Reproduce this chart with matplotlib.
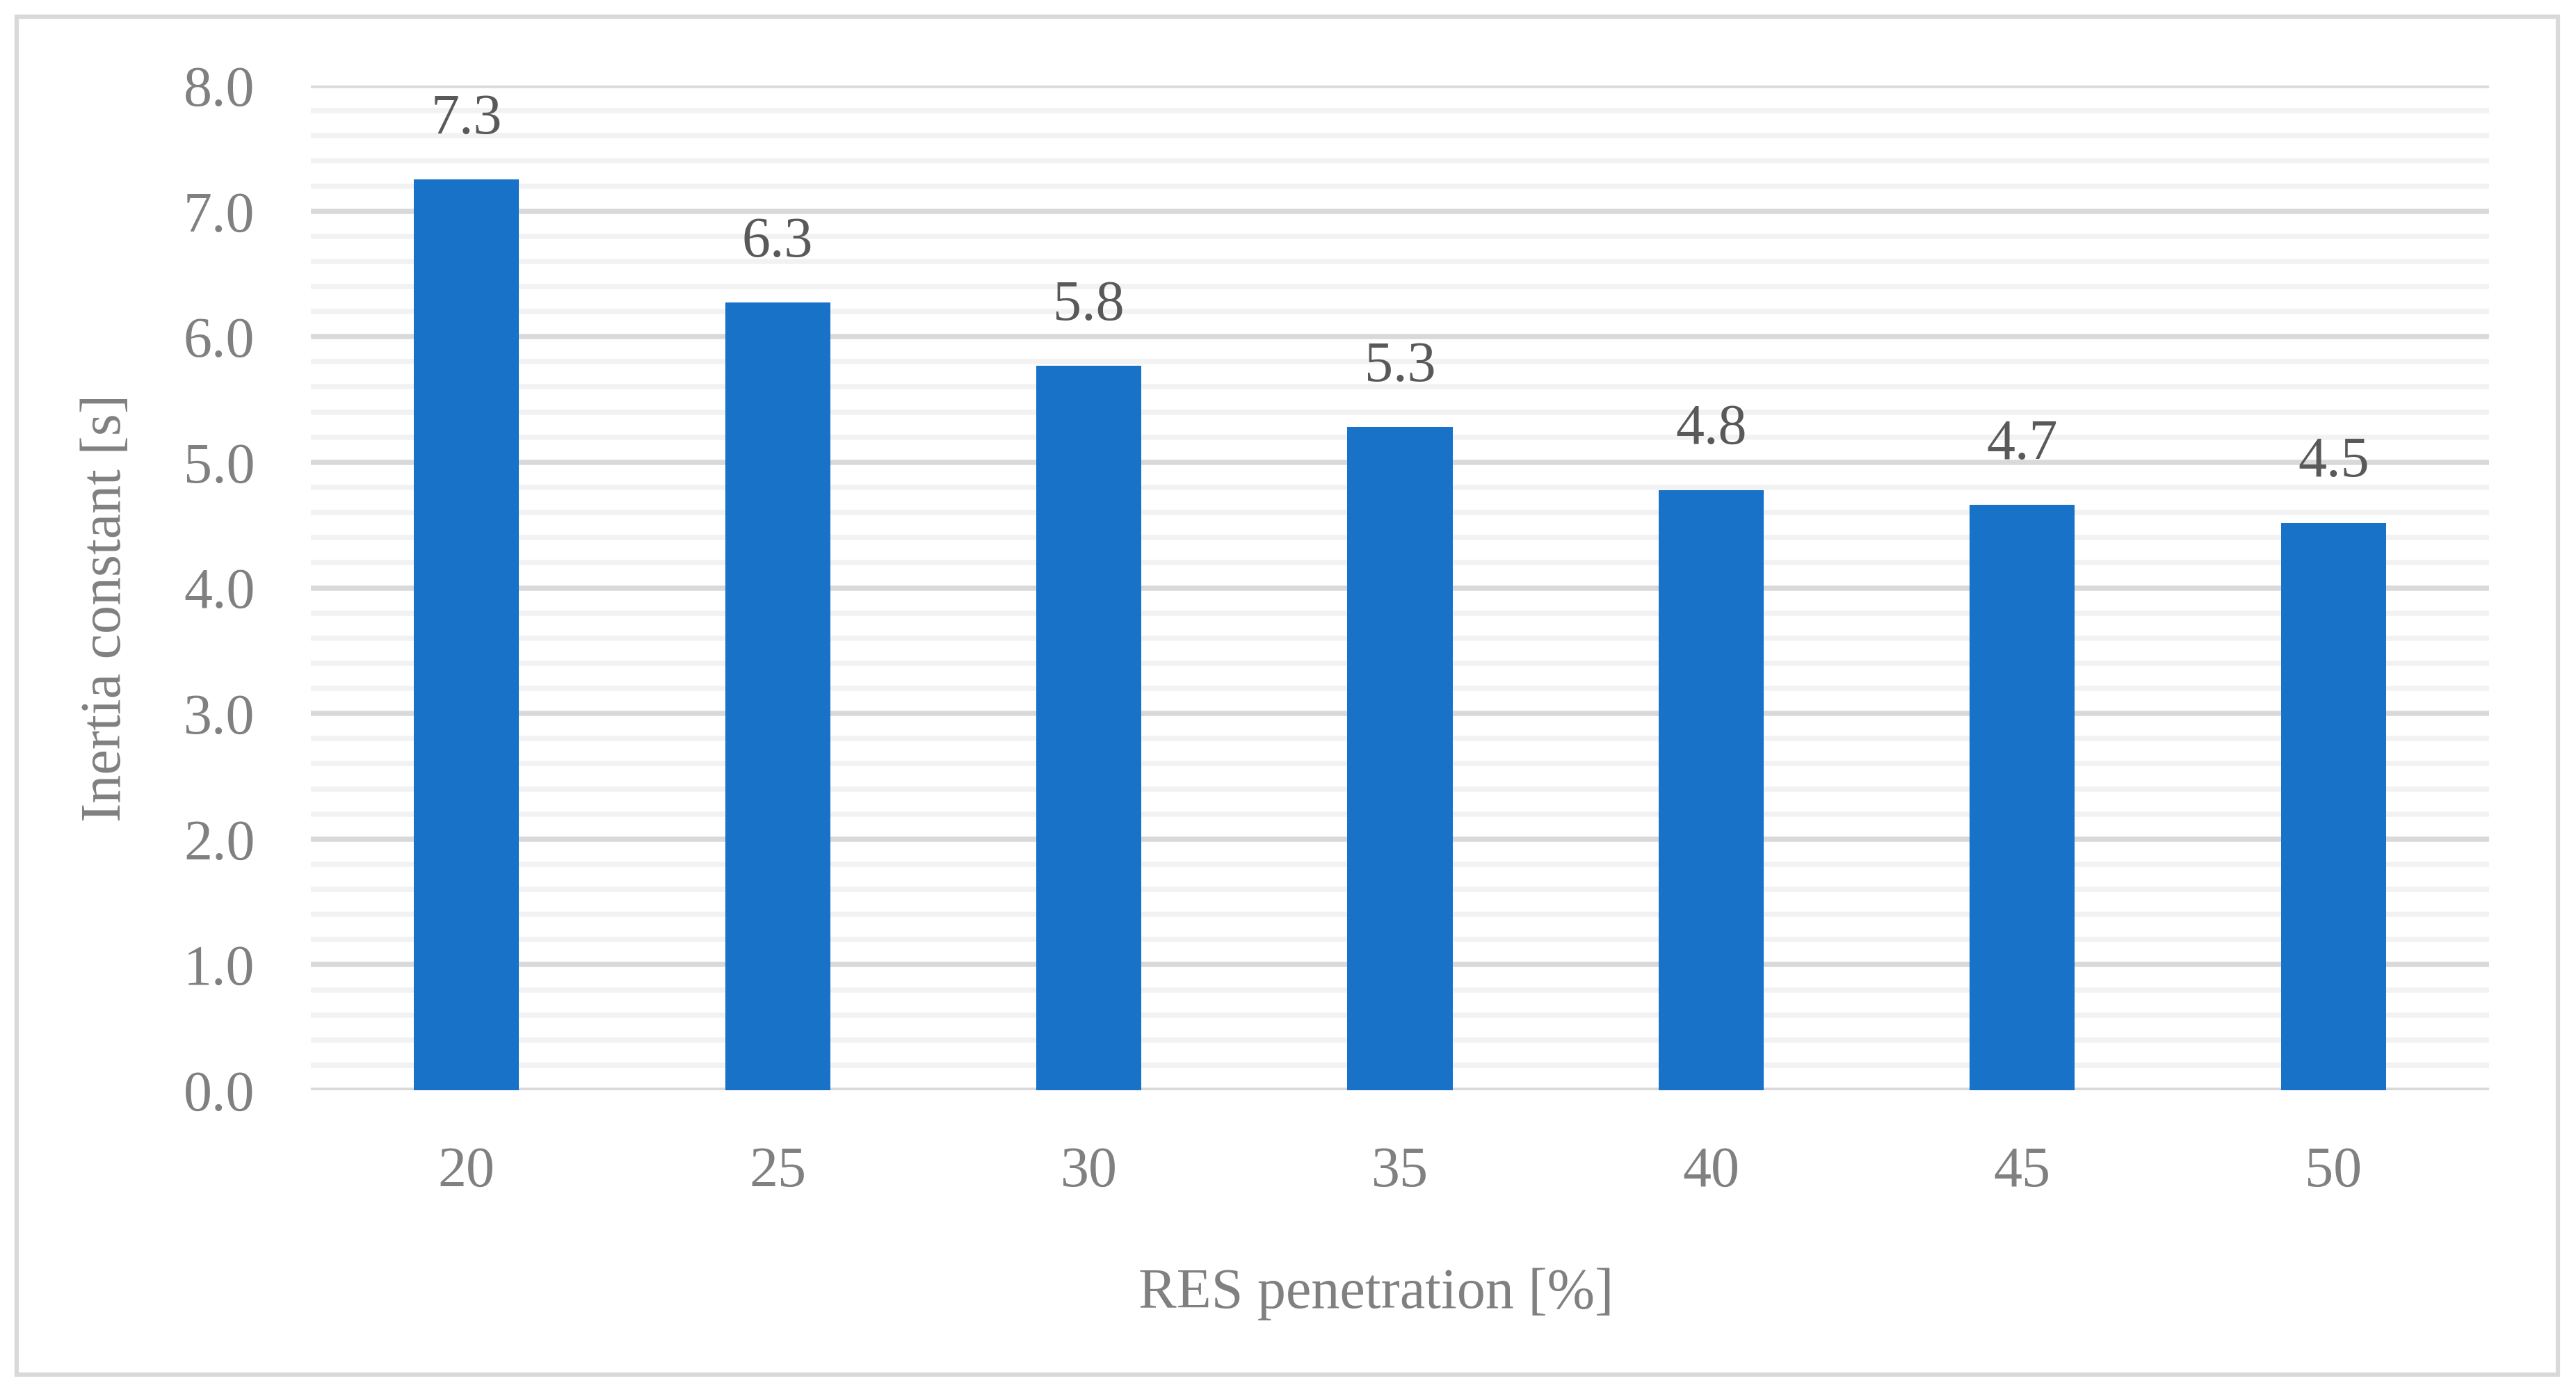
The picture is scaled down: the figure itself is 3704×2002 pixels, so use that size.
import numpy as np
import matplotlib.pyplot as plt
from matplotlib.patches import Rectangle
from matplotlib.ticker import MultipleLocator

penetration = ['20', '25', '30', '35', '40', '45', '50']
inertia = [7.25, 6.27, 5.77, 5.28, 4.78, 4.66, 4.52]
value_labels = ['7.3', '6.3', '5.8', '5.3', '4.8', '4.7', '4.5']

BAR_COLOR = '#1873c8'
TICK_GRAY = '#808080'
LABEL_DARK = '#595959'
FS = 59

plt.rcParams['font.family'] = ['Liberation Serif', 'DejaVu Serif']

fig = plt.figure(figsize=(37.04, 20.02), dpi=100)
ax = fig.add_axes([447 / 3704, 1 - 1568 / 2002, (3579 - 447) / 3704, (1568 - 123) / 2002])

x = np.arange(len(penetration))
ax.bar(x, inertia, width=0.3375, color=BAR_COLOR, zorder=3)

for xi, v, lab in zip(x, inertia, value_labels):
    ax.annotate(lab, (xi, v), xytext=(0, 62), textcoords='offset points',
                ha='center', va='center', fontsize=FS, color=LABEL_DARK)

ax.set_xlim(-0.5, len(penetration) - 0.5)
ax.set_ylim(0, 8)
ax.yaxis.set_major_locator(MultipleLocator(1.0))
ax.yaxis.set_minor_locator(MultipleLocator(0.2))
ax.yaxis.set_major_formatter(plt.FormatStrFormatter('%.1f'))
ax.set_xticks(x)
ax.set_xticklabels(penetration)

ax.grid(axis='y', which='major', color='#d9d9d9', linewidth=5.4, zorder=1)
ax.grid(axis='y', which='minor', color='#f2f2f2', linewidth=5.4, zorder=0)
ax.set_axisbelow(True)
for s in ax.spines.values():
    s.set_visible(False)

ax.tick_params(axis='both', which='both', length=0, labelsize=FS, labelcolor=TICK_GRAY)
ax.tick_params(axis='y', pad=58)
ax.tick_params(axis='x', pad=58)

fig.text(153 / 3704, 1 - 874 / 2002, 'Inertia constant [s]', rotation=90,
         ha='center', va='center', fontsize=FS, color=TICK_GRAY)
fig.text(1979 / 3704, 1 - 1861 / 2002, 'RES penetration [%]',
         ha='center', va='center', fontsize=FS, color=TICK_GRAY)

# outer chart border
fig.patches.append(Rectangle((24 / 3704, 1 - 1977 / 2002), (3678 - 24) / 3704, (1977 - 24) / 2002,
                             transform=fig.transFigure, fill=False,
                             edgecolor='#d9d9d9', linewidth=4.5))

fig.savefig('out.png', dpi=100, facecolor='white')
